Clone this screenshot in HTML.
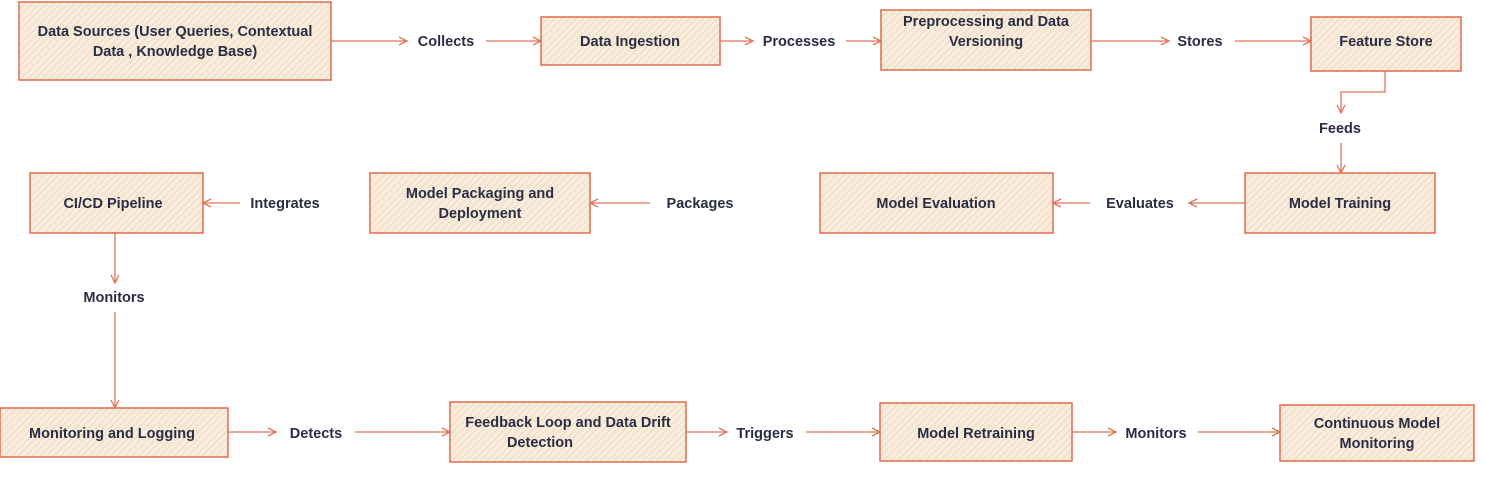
<!DOCTYPE html>
<html><head><meta charset="utf-8"><style>
html,body{margin:0;padding:0;background:#fff;}
svg text{font-family:"Liberation Sans",Arial,sans-serif;font-weight:bold;font-size:14.5px;fill:#2a2d44;text-anchor:middle;}
</style></head><body>
<svg width="1486" height="475" viewBox="0 0 1486 475" xmlns="http://www.w3.org/2000/svg">
<defs>
<pattern id="h" width="5" height="5" patternUnits="userSpaceOnUse" patternTransform="rotate(45)">
<rect width="5" height="5" fill="#f8ecdc"/>
<line x1="0" y1="0" x2="0" y2="5" stroke="#ecd3b6" stroke-width="1.5"/>
</pattern>
<marker id="a" markerWidth="10" markerHeight="10" refX="8" refY="5" orient="auto" markerUnits="userSpaceOnUse">
<path d="M1,1 L9,5 L1,9" fill="none" stroke="#e0735a" stroke-width="1.3"/>
</marker>
</defs>
<g fill="url(#h)" stroke="#e0735a" stroke-width="1.6">
<rect x="19" y="2" width="312" height="78"/>
<rect x="541" y="17" width="179" height="48"/>
<rect x="881" y="10" width="210" height="60"/>
<rect x="1311" y="17" width="150" height="54"/>
<rect x="1245" y="173" width="190" height="60"/>
<rect x="820" y="173" width="233" height="60"/>
<rect x="370" y="173" width="220" height="60"/>
<rect x="30" y="173" width="173" height="60"/>
<rect x="0" y="408" width="228" height="49"/>
<rect x="450" y="402" width="236" height="60"/>
<rect x="880" y="403" width="192" height="58"/>
<rect x="1280" y="405" width="194" height="56"/>
</g>
<g fill="none" stroke="#e0735a" stroke-width="1.3" marker-end="url(#a)">
<path d="M331,41 L406,41"/>
<path d="M486,41 L540,41"/>
<path d="M720,41 L752,41"/>
<path d="M846,41 L880,41"/>
<path d="M1091,41 L1168,41"/>
<path d="M1235,41 L1310,41"/>
<path d="M1385,71 L1385,92 L1341,92 L1341,112"/>
<path d="M1341,143 L1341,172"/>
<path d="M1245,203 L1190,203"/>
<path d="M1090,203 L1054,203"/>
<path d="M650,203 L591,203"/>
<path d="M240,203 L204,203"/>
<path d="M115,233 L115,282"/>
<path d="M115,312 L115,407"/>
<path d="M228,432 L275,432"/>
<path d="M355,432 L449,432"/>
<path d="M686,432 L726,432"/>
<path d="M806,432 L879,432"/>
<path d="M1072,432 L1115,432"/>
<path d="M1198,432 L1279,432"/>
</g>
<text x="175" y="36">Data Sources (User Queries, Contextual</text>
<text x="175" y="56">Data , Knowledge Base)</text>
<text x="630" y="46">Data Ingestion</text>
<text x="986" y="26">Preprocessing and Data</text>
<text x="986" y="46">Versioning</text>
<text x="1386" y="46">Feature Store</text>
<text x="1340" y="208">Model Training</text>
<text x="936" y="208">Model Evaluation</text>
<text x="480" y="198">Model Packaging and</text>
<text x="480" y="218">Deployment</text>
<text x="113" y="208">CI/CD Pipeline</text>
<text x="112" y="438">Monitoring and Logging</text>
<text x="568" y="427">Feedback Loop and  Data Drift</text>
<text x="540" y="447">Detection</text>
<text x="976" y="438">Model Retraining</text>
<text x="1377" y="428">Continuous Model</text>
<text x="1377" y="448">Monitoring</text>
<text x="446" y="46">Collects</text>
<text x="799" y="46">Processes</text>
<text x="1200" y="46">Stores</text>
<text x="1340" y="133">Feeds</text>
<text x="1140" y="208">Evaluates</text>
<text x="700" y="208">Packages</text>
<text x="285" y="208">Integrates</text>
<text x="114" y="302">Monitors</text>
<text x="316" y="438">Detects</text>
<text x="765" y="438">Triggers</text>
<text x="1156" y="438">Monitors</text>
</svg>
</body></html>
